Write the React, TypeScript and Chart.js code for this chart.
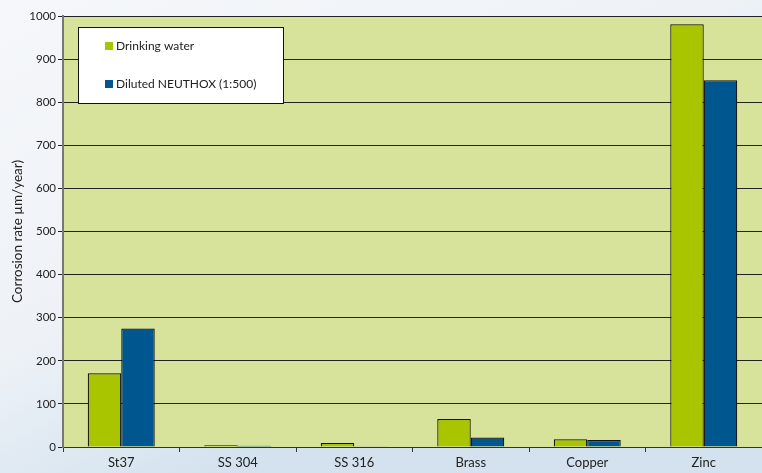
import React, { useEffect, useRef } from "react";
import { Chart, registerables } from "chart.js";

Chart.register(...registerables);

const categories = ["St37", "SS 304", "SS 316", "Brass", "Copper", "Zinc"];
const drinkingWater = [171, 4, 9, 65, 18, 981];
const dilutedNeuthox = [275, 3, 2, 22, 16, 851];
const seriesLabels = ["Drinking water", "Diluted NEUTHOX (1:500)"];
const yTicks = [0, 100, 200, 300, 400, 500, 600, 700, 800, 900, 1000];

const GREEN = "#a9c500";
const BLUE = "#00568f";
const FONT = "Lato, 'Open Sans', sans-serif";

const bgPlugin = {
  id: "bgPlugin",
  beforeDraw(chart: any) {
    const { ctx, width, height, chartArea } = chart;
    ctx.save();
    const g = ctx.createLinearGradient(0, 0, width * 0.3, height);
    g.addColorStop(0, "#f5f7fa");
    g.addColorStop(0.6, "#eef2f7");
    g.addColorStop(1, "#d3e2ee");
    ctx.fillStyle = g;
    ctx.fillRect(0, 0, width, height);
    ctx.fillStyle = "#d7e29b";
    ctx.fillRect(chartArea.left, chartArea.top, chartArea.right - chartArea.left, chartArea.bottom - chartArea.top);
    ctx.strokeStyle = "#777";
    ctx.lineWidth = 1;
    ctx.beginPath();
    ctx.moveTo(chartArea.left, chartArea.top + 0.5);
    ctx.lineTo(chartArea.right, chartArea.top + 0.5);
    ctx.stroke();
    ctx.restore();
  },
};

const legendPlugin = {
  id: "boxLegend",
  afterDraw(chart: any) {
    const { ctx } = chart;
    ctx.save();
    ctx.fillStyle = "#ffffff";
    ctx.fillRect(78, 27, 205, 76);
    ctx.strokeStyle = "#111";
    ctx.lineWidth = 1;
    ctx.strokeRect(78.5, 27.5, 205, 76);
    const rows = [46, 84];
    chart.data.datasets.forEach((ds: any, i: number) => {
      const y = rows[i];
      ctx.fillStyle = ds.backgroundColor;
      ctx.fillRect(105, y - 4, 8, 8);
      ctx.fillStyle = "#222";
      ctx.font = "12px " + FONT;
      ctx.textBaseline = "middle";
      ctx.textAlign = "left";
      ctx.fillText(ds.label, 116, y);
    });
    ctx.restore();
  },
};

export default function App() {
  const ref = useRef<HTMLCanvasElement>(null);
  useEffect(() => {
    document.body.style.margin = "0";
    const chart = new Chart(ref.current as HTMLCanvasElement, {
      type: "bar",
      data: {
        labels: categories,
        datasets: [
          { label: seriesLabels[0], data: drinkingWater, backgroundColor: GREEN, borderColor: "#111", borderWidth: 1.2 },
          { label: seriesLabels[1], data: dilutedNeuthox, backgroundColor: BLUE, borderColor: "#111", borderWidth: 1.2 },
        ],
      },
      options: {
        animation: false,
        responsive: false,
        layout: { padding: { top: 16, left: 0, right: 0, bottom: 0 } },
        datasets: { bar: { categoryPercentage: 0.575, barPercentage: 1 } },
        plugins: { legend: { display: false }, tooltip: { enabled: false } },
        scales: {
          x: {
            afterFit: (s: any) => { s.height = 26; },
            grid: { display: true, drawOnChartArea: false, drawTicks: true, tickLength: 5, color: "#333", offset: true },
            border: { display: true, color: "#333", width: 1 },
            ticks: { color: "#222", font: { family: FONT, size: 13 }, padding: 3 },
          },
          y: {
            min: 0,
            max: 1000,
            afterFit: (s: any) => { s.width = 63; },
            afterBuildTicks: (s: any) => { s.ticks = yTicks.map((v) => ({ value: v })); },
            grid: { color: "#222", lineWidth: 1, drawTicks: true, tickLength: 5 },
            border: { display: true, color: "#777", width: 2 },
            ticks: { color: "#222", font: { family: FONT, size: 11.5 }, padding: 2, callback: (v: any) => String(v) },
            title: { display: true, text: "Corrosion rate µm/year)", color: "#222", font: { family: FONT, size: 13.5 }, padding: { top: 10, bottom: 4 } },
          },
        },
      },
      plugins: [bgPlugin, legendPlugin],
    });
    return () => chart.destroy();
  }, []);
  return (
    <div style={{ position: "absolute", left: 0, top: 0, width: 762, height: 473 }}>
      <canvas ref={ref} width={762} height={473} style={{ width: 762, height: 473 }} />
    </div>
  );
}
